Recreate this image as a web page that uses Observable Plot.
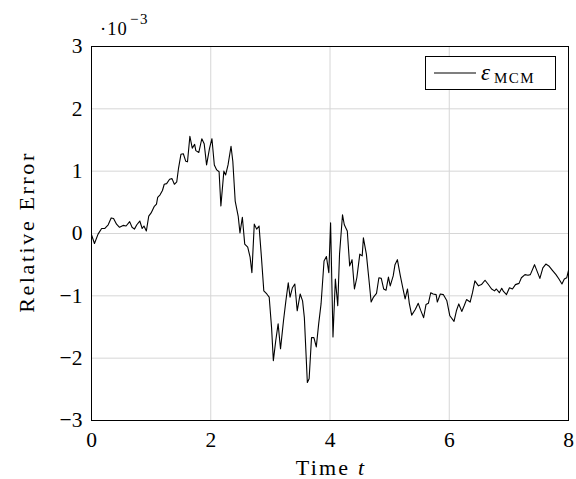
<!DOCTYPE html>
<html>
<head>
<meta charset="utf-8">
<script src="https://cdn.jsdelivr.net/npm/d3@7"></script>
<script src="https://cdn.jsdelivr.net/npm/@observablehq/plot@0.6"></script>
<style>
  html, body { margin: 0; padding: 0; background: white; }
  #chart { width: 576px; height: 479px; }
</style>
</head>
<body>
<div id="chart"></div>
<script>
// Time values t
const times = [
  0.00,0.05,0.11,0.17,0.22,0.28,0.33,0.37,0.42,0.47,0.53,0.58,0.64,0.68,0.72,0.76,0.81,0.85,0.88,0.92,
  0.96,1.00,1.05,1.09,1.11,1.15,1.19,1.22,1.26,1.31,1.35,1.39,1.43,1.46,1.50,1.54,1.58,1.61,1.65,1.69,
  1.73,1.75,1.80,1.85,1.89,1.93,1.98,2.02,2.06,2.10,2.14,2.17,2.22,2.25,2.29,2.34,2.37,2.41,2.46,2.49,
  2.53,2.57,2.62,2.66,2.69,2.73,2.77,2.81,2.85,2.89,2.94,2.98,3.02,3.05,3.09,3.13,3.17,3.22,3.26,3.30,
  3.33,3.37,3.41,3.45,3.50,3.54,3.57,3.62,3.65,3.69,3.73,3.77,3.81,3.85,3.90,3.94,3.98,4.01,4.05,4.09,
  4.13,4.16,4.21,4.24,4.29,4.33,4.37,4.41,4.45,4.50,4.54,4.56,4.61,4.65,4.69,4.73,4.78,4.82,4.86,4.90,
  4.94,4.98,5.01,5.06,5.09,5.13,5.18,5.22,5.26,5.30,5.33,5.37,5.43,5.48,5.52,5.57,5.61,5.65,5.69,5.73,
  5.78,5.80,5.85,5.90,5.96,6.01,6.08,6.12,6.16,6.21,6.25,6.29,6.35,6.39,6.43,6.49,6.54,6.60,6.65,6.71,
  6.76,6.79,6.84,6.88,6.91,6.96,7.01,7.06,7.11,7.17,7.21,7.27,7.32,7.36,7.43,7.52,7.57,7.62,7.67,7.73,
  7.79,7.84,7.89,7.93,7.97,8.00
];
// Relative error (units of 1e-3)
const errorMCM = [
  -0.02,-0.16,-0.01,0.08,0.08,0.14,0.25,0.24,0.15,0.10,0.13,0.12,0.19,0.10,0.07,0.14,0.20,0.08,0.12,0.04,
  0.28,0.33,0.43,0.47,0.58,0.62,0.69,0.79,0.80,0.87,0.88,0.79,0.83,1.05,1.27,1.28,1.16,1.15,1.56,1.37,
  1.43,1.33,1.30,1.52,1.44,1.10,1.37,1.52,1.10,1.02,0.99,0.44,1.00,0.94,1.10,1.40,1.16,0.52,0.28,0.01,
  0.26,-0.17,-0.22,-0.38,-0.63,0.15,0.07,0.12,-0.38,-0.92,-0.97,-1.02,-1.51,-2.04,-1.72,-1.45,-1.85,-1.40,-1.08,-0.79,
  -1.02,-0.87,-0.81,-1.24,-0.97,-1.08,-1.35,-2.39,-2.33,-1.67,-1.67,-1.82,-1.45,-1.13,-0.44,-0.37,-0.63,0.17,-1.66,-0.73,
  -1.16,-0.33,0.30,0.14,0.04,-0.52,-0.42,-0.89,-0.71,-0.33,-0.36,-0.07,-0.33,-0.71,-1.10,-1.02,-0.96,-0.71,-0.72,-0.89,
  -0.91,-0.70,-0.84,-0.68,-0.50,-0.42,-0.68,-0.87,-1.05,-0.89,-1.12,-1.31,-1.22,-1.12,-1.23,-1.35,-1.14,-1.12,-0.95,-0.97,
  -0.98,-1.10,-0.97,-0.98,-1.08,-1.32,-1.41,-1.24,-1.13,-1.25,-1.16,-1.06,-1.10,-0.95,-0.76,-0.84,-0.82,-0.75,-0.81,-0.89,
  -0.92,-0.89,-0.95,-0.88,-0.93,-0.98,-0.87,-0.89,-0.82,-0.80,-0.71,-0.66,-0.67,-0.66,-0.50,-0.72,-0.55,-0.49,-0.52,-0.59,
  -0.66,-0.73,-0.81,-0.73,-0.71,-0.59
];
const xTicks = [0, 2, 4, 6, 8];
const yTicks = [-3, -2, -1, 0, 1, 2, 3];
const gridX = [2, 4, 6];
const gridY = [-2, -1, 0, 1, 2];

const data = times.map((t, i) => ({t, e: errorMCM[i]}));
const serif = "'Liberation Serif', 'DejaVu Serif', serif";
const fmt = d => d < 0 ? "\u2212" + Math.abs(d) : String(d);

const chart = Plot.plot({
  width: 576,
  height: 479,
  marginLeft: 91,
  marginRight: 8,
  marginTop: 46,
  marginBottom: 59,
  style: {fontFamily: serif, fontSize: "21px", background: "white", color: "black", overflow: "visible"},
  x: {domain: [0, 8], label: null},
  y: {domain: [-3, 3], label: null},
  marks: [
    Plot.gridX(gridX, {stroke: "#d6d6d6", strokeOpacity: 1, strokeWidth: 1}),
    Plot.gridY(gridY, {stroke: "#d6d6d6", strokeOpacity: 1, strokeWidth: 1}),
    Plot.axisX(xTicks, {tickSize: 0, tickPadding: 11, tickFormat: fmt, fontSize: 21.5}),
    Plot.axisY(yTicks, {tickSize: 0, tickPadding: 9, tickFormat: fmt, fontSize: 21.5}),
    Plot.line(data, {x: "t", y: "e", stroke: "black", strokeWidth: 1.1}),
    Plot.frame({stroke: "black", strokeWidth: 1})
  ]
});

const svg = d3.select(chart);
function txt(x, y, size) {
  return svg.append("text").attr("x", x).attr("y", y).attr("font-family", serif)
    .attr("font-size", size).attr("text-anchor", "start").attr("fill", "black");
}
// exponent label
txt(100, 35, 18.5).attr("letter-spacing", 1).text("\u00B710");
txt(130, 24, 15).attr("letter-spacing", 1.5).text("\u22123");
// axis labels
const xl = txt(331, 475, 22).attr("text-anchor", "middle").attr("letter-spacing", 2.2);
xl.append("tspan").text("Time ");
xl.append("tspan").attr("font-style", "italic").text("t");
svg.append("text").attr("transform", "translate(34,232) rotate(-90)").attr("text-anchor", "middle")
  .attr("font-family", serif).attr("font-size", 22).attr("letter-spacing", 2.6).attr("fill", "black")
  .text("Relative Error");
// legend
svg.append("rect").attr("x", 425.5).attr("y", 56.5).attr("width", 130).attr("height", 33)
  .attr("fill", "white").attr("stroke", "black").attr("stroke-width", 1);
svg.append("line").attr("x1", 434).attr("x2", 476).attr("y1", 73).attr("y2", 73)
  .attr("stroke", "black").attr("stroke-width", 1.1);
txt(481, 80, 23).attr("font-style", "italic").text("\u03B5");
txt(494, 83, 15).attr("letter-spacing", 1.5).text("MCM");

document.getElementById("chart").appendChild(chart);
</script>
</body>
</html>
